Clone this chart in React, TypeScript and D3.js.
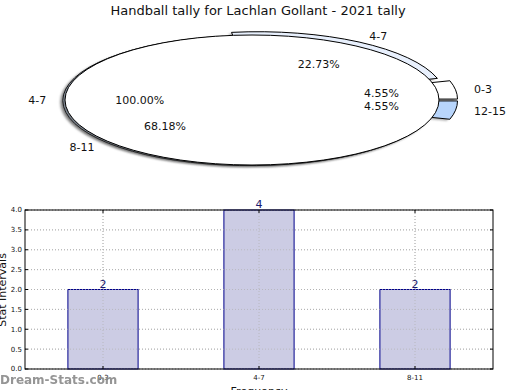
import React from "react";
import * as d3 from "d3";

// pie data
const pieLabels = ["0-3", "4-7", "8-11", "12-15"];
const pieValues = [1, 5, 15, 1];
const pieExplode = [0.1, 0.06, 0.015, 0.1];
const pieColors = ["#ffffff", "#e8f0fd", "#c9dbf4", "#b8d5fb"];
const outerLabel = "4-7";

// bar data
const barCategories = ["0-3", "4-7", "8-11"];
const barValues = [2, 4, 2];
const yTicks = [0, 0.5, 1, 1.5, 2, 2.5, 3, 3.5, 4];

const W = 520;
const H = 390;
const font = "DejaVu Sans, sans-serif";

// ellipse geometry of the squashed pie
const cx = 252, cy = 100, rx = 187, ry = 65;

const App = () => {
  // matplotlib style: start at east, go counter-clockwise
  const pie = d3.pie<number>().sort(null).startAngle(Math.PI / 2).endAngle(Math.PI / 2 - 2 * Math.PI);
  const arcs = pie(pieValues);
  const total = d3.sum(pieValues);
  const arcGen = d3.arc<any>().innerRadius(0).outerRadius(1);

  // d3 angle -> math angle (ccw from east)
  const mathAngle = (a: number) => Math.PI / 2 - a;
  const toPx = (ux: number, uy: number) => [cx + ux * rx, cy - uy * ry];

  const slices = arcs.map((a, i) => {
    const mid = mathAngle((a.startAngle + a.endAngle) / 2);
    const e = pieExplode[i];
    const ox = e * Math.cos(mid), oy = e * Math.sin(mid);
    const [lx, ly] = toPx((1.1 + e) * Math.cos(mid), (1.1 + e) * Math.sin(mid));
    const [px, py] = toPx((0.6 + e) * Math.cos(mid), (0.6 + e) * Math.sin(mid));
    return {
      d: arcGen(a) as string,
      tx: cx + ox * rx,
      ty: cy - oy * ry,
      lx, ly, px, py,
      anchor: Math.cos(mid) >= 0 ? "start" : "end",
      pct: ((pieValues[i] / total) * 100).toFixed(2) + "%",
      label: pieLabels[i],
      color: pieColors[i],
    };
  });

  // bar chart layout
  const margin = { top: 210, right: 27, bottom: 21, left: 25 };
  const pw = W - margin.left - margin.right;
  const ph = H - margin.top - margin.bottom;
  const x = d3.scaleBand().domain(barCategories).range([0, pw]).paddingInner(0).paddingOuter(0);
  const bw = x.step() * 0.45;
  const y = d3.scaleLinear().domain([0, 4]).range([ph, 0]);

  return (
    <svg width={W} height={H} style={{ position: "absolute", left: 0, top: 0, background: "#fff" }} fontFamily={font}>
      <defs>
        <filter id="blur" x="-5%" y="-10%" width="110%" height="120%">
          <feGaussianBlur stdDeviation="0.9" />
        </filter>
      </defs>
      <rect width={W} height={H} fill="#fff" />
      <text x={W / 2 - 2} y={15} textAnchor="middle" fontSize={13} fill="#111">
        Handball tally for Lachlan Gollant - 2021 tally
      </text>

      {/* exploded slices with shadows */}
      <g filter="url(#blur)" opacity={0.5}>
        {slices.map((s, i) => (
          <path key={"sh" + i} d={s.d} transform={`translate(${s.tx - 3},${s.ty + 1.5}) scale(${rx},${ry})`} fill="#555" />
        ))}
      </g>
      {slices.map((s, i) => (
        <path key={"sl" + i} d={s.d} transform={`translate(${s.tx},${s.ty}) scale(${rx},${ry})`}
          fill={s.color} stroke="#000" strokeWidth={1} vectorEffect="non-scaling-stroke" />
      ))}

      {/* full 100% pie on top */}
      <g filter="url(#blur)" opacity={0.6}>
        <ellipse cx={cx - 3} cy={cy + 2} rx={rx} ry={ry} fill="#444" />
      </g>
      <ellipse cx={cx} cy={cy} rx={rx} ry={ry} fill="#fff" stroke="#000" strokeWidth={1} />

      {slices.map((s, i) => (
        <text key={"lb" + i} x={s.lx} y={s.ly} dy="0.35em" textAnchor={s.anchor} fontSize={11} fill="#111">
          {s.label}
        </text>
      ))}
      {slices.map((s, i) => (
        <text key={"pc" + i} x={s.px} y={s.py} dy="0.35em" textAnchor="middle" fontSize={11} fill="#111">
          {s.pct}
        </text>
      ))}
      <text x={cx - rx * 1.1} y={cy} dy="0.35em" textAnchor="end" fontSize={11} fill="#111">{outerLabel}</text>
      <text x={cx - rx * 0.6} y={cy} dy="0.35em" textAnchor="middle" fontSize={11} fill="#111">100.00%</text>

      {/* bar chart */}
      <g transform={`translate(${margin.left},${margin.top})`}>
        {yTicks.map((t) => (
          <line key={"gy" + t} x1={0} x2={pw} y1={y(t)} y2={y(t)} stroke="#b8b8b8" strokeDasharray="1,2" />
        ))}
        {barCategories.map((c) => (
          <line key={"gx" + c} x1={x(c)! + x.bandwidth() / 2} x2={x(c)! + x.bandwidth() / 2} y1={0} y2={ph}
            stroke="#b8b8b8" strokeDasharray="1,2" />
        ))}
        {barCategories.map((c, i) => (
          <rect key={"b" + c} x={x(c)! + x.bandwidth() / 2 - bw / 2} y={y(barValues[i])} width={bw}
            height={ph - y(barValues[i])} fill="#cccce4" stroke="#00008b" strokeWidth={1} />
        ))}
        {barCategories.map((c) => (
          <line key={"gx2" + c} x1={x(c)! + x.bandwidth() / 2} x2={x(c)! + x.bandwidth() / 2} y1={0} y2={ph}
            stroke="#b0b0b0" strokeDasharray="1,2" opacity={0.7} />
        ))}
        {yTicks.map((t) => (
          <line key={"gy2" + t} x1={0} x2={pw} y1={y(t)} y2={y(t)} stroke="#b0b0b0" strokeDasharray="1,2" opacity={0.7} />
        ))}
        {barCategories.map((c, i) => (
          <text key={"v" + c} x={x(c)! + x.bandwidth() / 2} y={y(barValues[i]) - 2} textAnchor="middle"
            fontSize={11} fill="#1a1a70">{barValues[i]}</text>
        ))}
        <rect x={0} y={0} width={pw} height={ph} fill="none" stroke="#000" strokeWidth={1} />
        {yTicks.map((t) => (
          <g key={"ty" + t}>
            <line x1={0} x2={3} y1={y(t)} y2={y(t)} stroke="#000" />
            <line x1={pw - 3} x2={pw} y1={y(t)} y2={y(t)} stroke="#000" />
            <text x={-3} y={y(t)} dy="0.35em" textAnchor="end" fontSize={7} fill="#111">{t.toFixed(1)}</text>
          </g>
        ))}
        {barCategories.map((c) => (
          <g key={"tx" + c}>
            <line x1={x(c)! + x.bandwidth() / 2} x2={x(c)! + x.bandwidth() / 2} y1={ph} y2={ph - 3} stroke="#000" />
            <line x1={x(c)! + x.bandwidth() / 2} x2={x(c)! + x.bandwidth() / 2} y1={0} y2={3} stroke="#000" />
            <text x={x(c)! + x.bandwidth() / 2} y={ph + 11} textAnchor="middle" fontSize={7} fill="#111">{c}</text>
          </g>
        ))}
      </g>
      <text x={W / 2 - 1} y={395} textAnchor="middle" fontSize={11} fill="#111">Frequency</text>
      <text transform={`translate(5.5,290) rotate(-90)`} textAnchor="middle" fontSize={11} fill="#111">Stat Intervals</text>
      <text x={0} y={384} fontSize={12} fill="#8a8a8a" fontWeight="bold" opacity={0.9}>Dream-Stats.com</text>
    </svg>
  );
};

export default App;
